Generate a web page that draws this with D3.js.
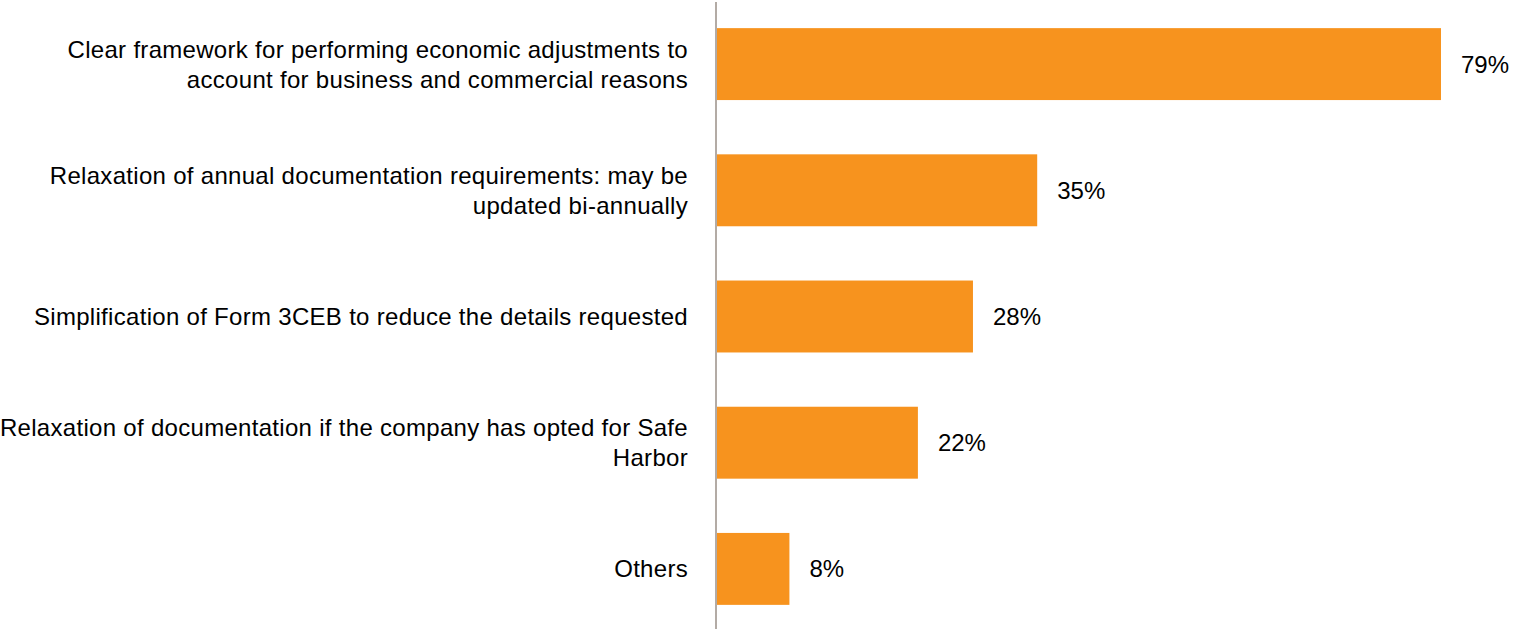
<!DOCTYPE html>
<html>
<head>
<meta charset="utf-8">
<script src="https://cdn.jsdelivr.net/npm/d3@7"></script>
<style>
  html, body { margin: 0; padding: 0; background: #ffffff; }
  svg { display: block; }
  text { font-family: "Liberation Sans", Arial, Helvetica, sans-serif; fill: #000; }
</style>
</head>
<body>
<svg id="chart" width="1515" height="629"></svg>
<script>
// Survey responses: share of respondents choosing each measure
const categories = [
  "Clear framework for performing economic adjustments to account for business and commercial reasons",
  "Relaxation of annual documentation requirements: may be updated bi-annually",
  "Simplification of Form 3CEB to reduce the details requested",
  "Relaxation of documentation if the company has opted for Safe Harbor",
  "Others"
];
// How each category label is broken over lines
const categoryLines = [
  ["Clear framework for performing economic adjustments to", "account for business and commercial reasons"],
  ["Relaxation of annual documentation requirements: may be", "updated bi-annually"],
  ["Simplification of Form 3CEB to reduce the details requested"],
  ["Relaxation of documentation if the company has opted for Safe", "Harbor"],
  ["Others"]
];
const values = [79, 35, 28, 22, 8];
const valueLabels = ["79%", "35%", "28%", "22%", "8%"];

const svg = d3.select("#chart");
const W = 1515, H = 629;
const axisX = 716;

const x = d3.scaleLinear().domain([0, 79]).range([axisX, 1441]);
const y = d3.scaleBand()
  .domain(categories)
  .range([1, 632])
  .paddingInner(0.43)
  .paddingOuter(0.215);

// Bars
svg.append("g").selectAll("rect")
  .data(categories)
  .join("rect")
  .attr("x", x(0))
  .attr("y", d => y(d))
  .attr("width", (d, i) => x(values[i]) - x(0))
  .attr("height", y.bandwidth())
  .attr("fill", "#F7931E");

// Value labels
svg.append("g").selectAll("text")
  .data(categories)
  .join("text")
  .attr("x", (d, i) => x(values[i]) + 20)
  .attr("y", d => y(d) + y.bandwidth() / 2)
  .attr("dy", "0.35em")
  .attr("font-size", 24)
  .text((d, i) => valueLabels[i]);

// Category labels
const lineGap = 30;
const catG = svg.append("g");
categories.forEach((c, i) => {
  const lines = categoryLines[i];
  const cy = y(c) + y.bandwidth() / 2;
  const t = catG.append("text")
    .attr("text-anchor", "end")
    .attr("font-size", 24)
    .attr("letter-spacing", "0.3px");
  lines.forEach((ln, j) => {
    t.append("tspan")
      .attr("x", 688)
      .attr("y", cy + (j - (lines.length - 1) / 2) * lineGap)
      .attr("dy", "0.35em")
      .text(ln);
  });
});

// Vertical category axis line
svg.append("line")
  .attr("x1", axisX).attr("x2", axisX)
  .attr("y1", 2).attr("y2", H)
  .attr("stroke", "#b3aba5")
  .attr("stroke-width", 2);
</script>
</body>
</html>
